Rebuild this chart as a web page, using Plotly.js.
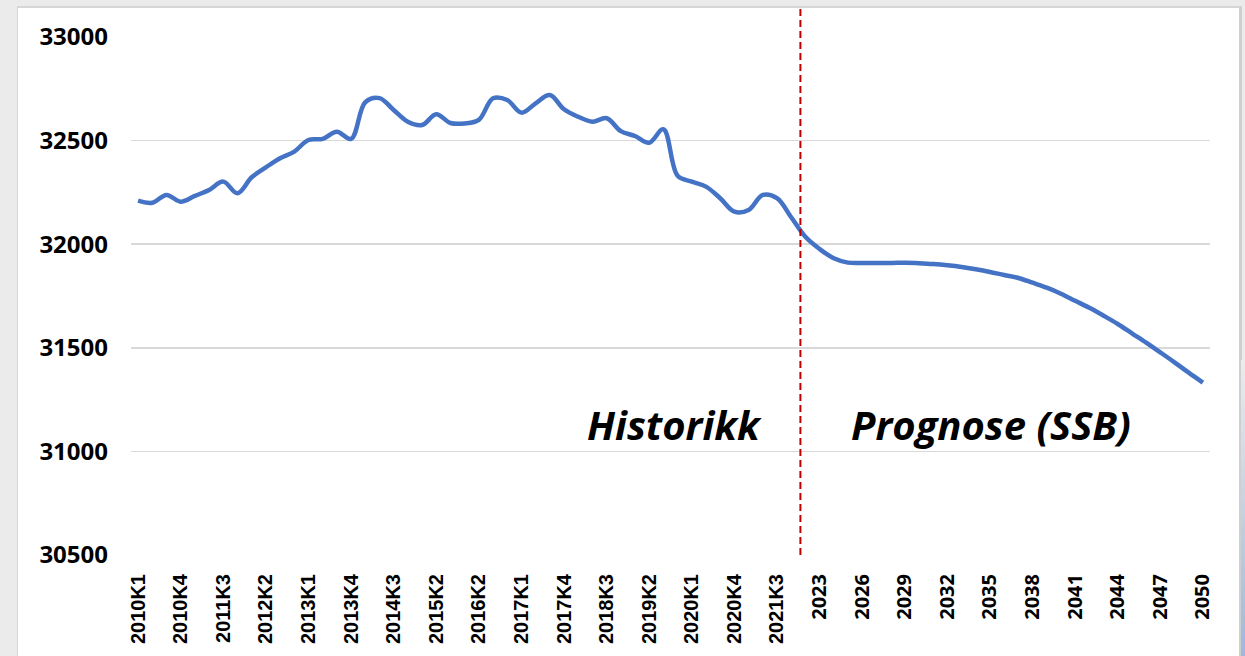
<!DOCTYPE html>
<html>
<head>
<meta charset="utf-8">
<script src="https://cdn.plot.ly/plotly-3.0.1.min.js"></script>
<style>
  html, body { margin: 0; padding: 0; width: 1245px; height: 656px; overflow: hidden; background: #ebebeb; }
  #frame { position: absolute; left: 17px; top: 6px; width: 1221px; height: 660px; background: #fff;
           border-top: 2px solid #d6d6d6; border-left: 1px solid #d6d6d6; border-right: 3px solid #cfcfcf; }
  #chart { position: absolute; left: 19px; top: 8px; width: 1220px; height: 648px; }
  #strip { position: absolute; left: 1241px; top: 360px; width: 4px; height: 296px;
           background: linear-gradient(to bottom, #ebebeb, #9cb9dc); }
</style>
</head>
<body>
<div id="frame"></div>
<div id="strip"></div>
<div id="chart"></div>
<script>
// Categories: quarterly history, then yearly forecast
const categories = [
  "2010K1","2010K2","2010K3","2010K4",
  "2011K1","2011K2","2011K3","2011K4",
  "2012K1","2012K2","2012K3","2012K4",
  "2013K1","2013K2","2013K3","2013K4",
  "2014K1","2014K2","2014K3","2014K4",
  "2015K1","2015K2","2015K3",
  "2016K1","2016K2","2016K3","2016K4",
  "2017K1","2017K2","2017K3","2017K4",
  "2018K1","2018K2","2018K3","2018K4",
  "2019K1","2019K2","2019K3","2019K4",
  "2020K1","2020K2","2020K3","2020K4",
  "2021K1","2021K2","2021K3","2021K4",
  "2022","2023","2024","2025","2026","2027","2028","2029","2030",
  "2031","2032","2033","2034","2035","2036","2037","2038","2039","2040",
  "2041","2042","2043","2044","2045","2046","2047","2048","2049","2050"
];

const values = [
  32210, 32200, 32238, 32205,
  32233, 32262, 32302, 32246,
  32323, 32371, 32415, 32447,
  32503, 32508, 32543, 32508,
  32685, 32705, 32648, 32591,
  32575, 32627, 32585,
  32583, 32600, 32704, 32696,
  32635, 32680, 32720, 32651,
  32615, 32591, 32608, 32546,
  32522, 32490, 32555, 32330,
  32302, 32278, 32222, 32157,
  32165, 32238, 32222, 32130,
  32036, 31977, 31932, 31911, 31909, 31909, 31909, 31911, 31908,
  31904, 31898, 31890, 31879, 31866, 31851, 31837, 31814, 31790, 31761,
  31727, 31693, 31655, 31615, 31570, 31525, 31478, 31430, 31380, 31332
];

const tickLabels = [
  "2010K1","2010K4","2011K3","2012K2","2013K1","2013K4","2014K3","2015K2",
  "2016K2","2017K1","2017K4","2018K3","2019K2","2020K1","2020K4","2021K3",
  "2023","2026","2029","2032","2035","2038","2041","2044","2047","2050"
];

const yTicks = [30500, 31000, 31500, 32000, 32500, 33000];

const labelHistory = "Historikk";
const labelForecast = "Prognose (SSB)";

const tickText = tickLabels.map(t => t.indexOf("K") >= 0
  ? '<span style="font-family:Liberation Sans">' + t + '</span>'
  : '<span style="font-family:Open Sans">' + t + '</span>');

const trace = {
  type: "scatter",
  mode: "lines",
  x: categories,
  y: values,
  line: { color: "#4472C4", width: 4.5, shape: "spline", smoothing: 1 },
  hoverinfo: "x+y"
};

const lastHistIdx = categories.indexOf("2021K4");

const layout = {
  width: 1220,
  height: 648,
  margin: { l: 112, r: 29, t: 29, b: 101 },
  paper_bgcolor: "rgba(0,0,0,0)",
  plot_bgcolor: "#ffffff",
  showlegend: false,
  xaxis: {
    type: "category",
    range: [-0.5, categories.length - 0.5],
    tickmode: "array",
    tickvals: tickLabels,
    ticktext: tickText,
    tickangle: -90,
    tickfont: { family: "Liberation Sans", size: 20, color: "#000", weight: "bold" },
    ticks: "",
    ticklabelstandoff: 14,
    showgrid: false,
    zeroline: false,
    showline: false
  },
  yaxis: {
    range: [30500, 33000],
    tickmode: "array",
    tickvals: yTicks,
    ticktext: yTicks.map(String),
    tickfont: { family: "Open Sans", size: 24, color: "#000", weight: "bold" },
    ticks: "",
    ticklabelstandoff: 22,
    showgrid: true,
    gridcolor: "#d9d9d9",
    gridwidth: 1.5,
    zeroline: false,
    showline: false
  },
  shapes: [{
    type: "line",
    xref: "x", yref: "paper",
    x0: lastHistIdx + 0.65, x1: lastHistIdx + 0.65,
    y0: 0, y1: 1.065,
    line: { color: "#C00000", width: 2, dash: "7px,4px" }
  }],
  annotations: [
    {
      text: labelHistory, xref: "x", yref: "y",
      x: 37.8, y: 31130, showarrow: false,
      font: { family: "Open Sans", size: 40, color: "#000", weight: "bold", style: "italic" }
    },
    {
      text: labelForecast, xref: "x", yref: "y",
      x: 60.1, y: 31130, showarrow: false,
      font: { family: "Open Sans", size: 40, color: "#000", weight: "bold", style: "italic" }
    }
  ]
};

Plotly.newPlot("chart", [trace], layout, { displayModeBar: false, staticPlot: true });
</script>
</body>
</html>
